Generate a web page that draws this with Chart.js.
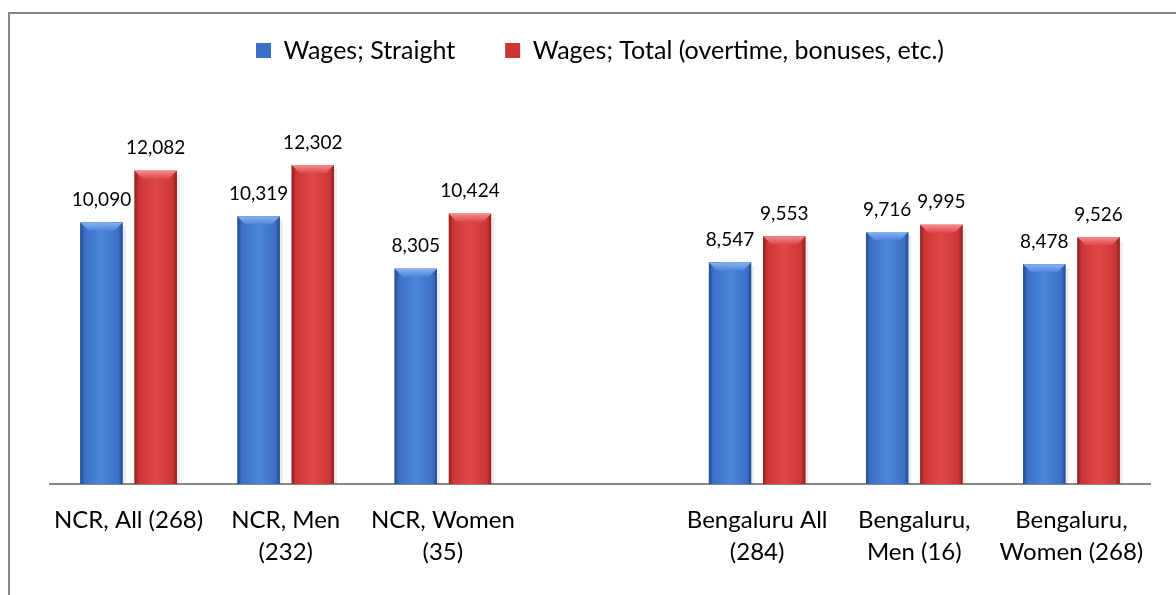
<!DOCTYPE html>
<html>
<head>
<meta charset="utf-8">
<script src="https://cdn.jsdelivr.net/npm/chart.js@4.4.0/dist/chart.umd.min.js"></script>
<style>
  html, body { margin: 0; padding: 0; background: #fff; }
  .frame { position: absolute; left: 8px; top: 12px; width: 1300px; height: 700px;
           border-left: 2px solid #868686; border-top: 2px solid #868686; }
  .wrap { position: absolute; left: 0; top: 0; width: 1176px; height: 595px; }
</style>
</head>
<body>
<div class="frame"></div>
<div class="wrap"><canvas id="wageChart"></canvas></div>
<script>
// Chart data
const categories = [
    ['NCR, All (268)'],
    ['NCR, Men', '(232)'],
    ['NCR, Women', '(35)'],
    '',
    ['Bengaluru All', '(284)'],
    ['Bengaluru,', 'Men (16)'],
    ['Bengaluru,', 'Women (268)']
];
const seriesNames = ['Wages; Straight', 'Wages; Total (overtime, bonuses, etc.)'];
const straightWages = [10090, 10319, 8305, null, 8547, 9716, 8478];
const totalWages = [12082, 12302, 10424, null, 9553, 9995, 9526];

// colours for the bevelled bars
const shades = [
    { base: '#3b70c6', edge: '#244b8e', light: '#4c86dc', top: '#8ab4ee' },
    { base: '#cc3636', edge: '#8e2020', light: '#de4848', top: '#f28c8c' }
];

const FONT = 'Lato, "Open Sans", sans-serif';

// draws the bevel look on each bar and the value labels above them
const bevelBars = {
    id: 'bevelBars',
    afterDatasetsDraw(chart) {
        const ctx = chart.ctx;
        chart.data.datasets.forEach((ds, i) => {
            const meta = chart.getDatasetMeta(i);
            const sh = shades[i];
            meta.data.forEach((bar, j) => {
                if (ds.data[j] == null) return;
                const p = bar.getProps(['x', 'y', 'base', 'width'], true);
                const l = p.x - p.width / 2, r = p.x + p.width / 2;
                const b = 8;
                ctx.save();
                // soft shadow to the right
                ctx.fillStyle = 'rgba(0,0,0,0.08)';
                ctx.fillRect(r, p.y + 4, 3, p.base - p.y - 4);
                // body
                let g = ctx.createLinearGradient(l, 0, r, 0);
                g.addColorStop(0, sh.edge);
                g.addColorStop(0.1, sh.base);
                g.addColorStop(0.5, sh.light);
                g.addColorStop(0.9, sh.base);
                g.addColorStop(1, sh.edge);
                ctx.fillStyle = g;
                ctx.fillRect(l, p.y, p.width, p.base - p.y);
                // top bevel
                g = ctx.createLinearGradient(0, p.y, 0, p.y + b);
                g.addColorStop(0, sh.top);
                g.addColorStop(1, sh.light);
                ctx.fillStyle = g;
                ctx.beginPath();
                ctx.moveTo(l, p.y);
                ctx.lineTo(r, p.y);
                ctx.lineTo(r - b, p.y + b);
                ctx.lineTo(l + b, p.y + b);
                ctx.closePath();
                ctx.fill();
                // value label
                ctx.fillStyle = '#000';
                ctx.font = '19px ' + FONT;
                ctx.textAlign = 'center';
                ctx.textBaseline = 'bottom';
                ctx.fillText(ds.data[j].toLocaleString('en-US'), p.x, p.y - 13);
                ctx.restore();
            });
        });
    }
};

// fix the legend height so the plot area starts where it should
const legendHeight = {
    id: 'legendHeight',
    beforeInit(chart) {
        const fit = chart.legend.fit;
        chart.legend.fit = function () {
            fit.bind(chart.legend)();
            this.height = 133;
        };
    }
};

const ctx = document.getElementById('wageChart').getContext('2d');
const wageChart = new Chart(ctx, {
    type: 'bar',
    data: {
        labels: categories,
        datasets: [{
            label: seriesNames[0],
            data: straightWages,
            backgroundColor: shades[0].base,
            categoryPercentage: 0.69,
            barPercentage: 0.78
        }, {
            label: seriesNames[1],
            data: totalWages,
            backgroundColor: shades[1].base,
            categoryPercentage: 0.69,
            barPercentage: 0.78
        }]
    },
    options: {
        responsive: true,
        maintainAspectRatio: false,
        animation: false,
        layout: { padding: { left: 50, right: 26, top: -12, bottom: 0 } },
        plugins: {
            legend: {
                position: 'top',
                labels: {
                    color: '#000',
                    font: { family: FONT, size: 25 },
                    usePointStyle: true,
                    pointStyle: 'rect',
                    pointStyleWidth: 15,
                    boxHeight: 15,
                    padding: 50
                }
            },
            tooltip: { enabled: false }
        },
        scales: {
            x: {
                grid: { display: false, drawTicks: false },
                border: { display: true, color: '#868686', width: 2 },
                ticks: {
                    color: '#000',
                    font: { family: FONT, size: 24, lineHeight: 1.33 },
                    autoSkip: false,
                    maxRotation: 0,
                    padding: 20
                },
                afterFit(scale) { scale.height = 111; }
            },
            y: {
                display: false,
                min: 0,
                max: 14000
            }
        }
    },
    plugins: [legendHeight, bevelBars]
});
</script>
</body>
</html>
